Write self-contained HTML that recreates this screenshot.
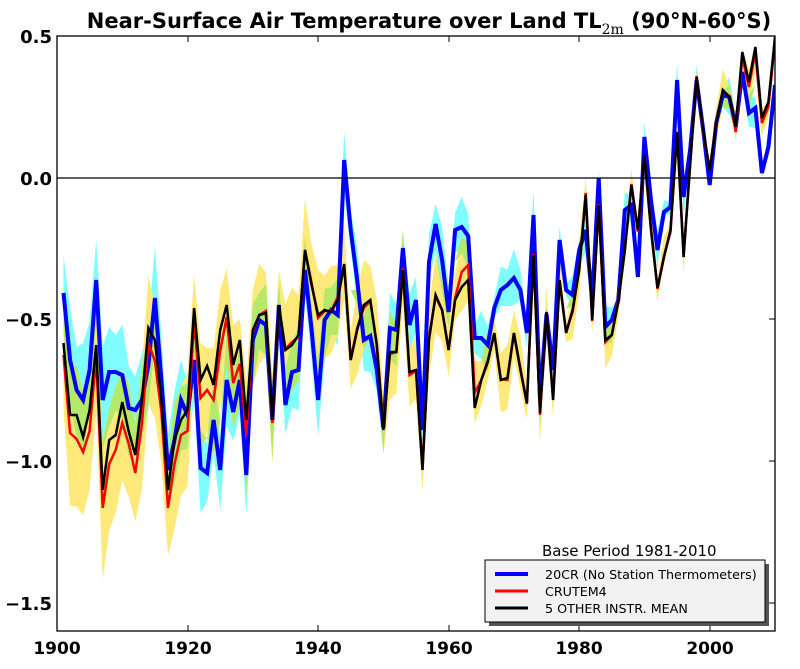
<!DOCTYPE html>
<html><head><meta charset="utf-8"><style>
body{margin:0;background:#fff;width:800px;height:664px;overflow:hidden}
</style></head><body>
<svg id="s" width="800" height="664" xmlns="http://www.w3.org/2000/svg" font-family="DejaVu Sans, Liberation Sans, sans-serif">
<text x="429" y="28" font-size="21" font-weight="bold" text-anchor="middle">Near-Surface Air Temperature over Land TL<tspan font-size="14" font-weight="normal" font-family="DejaVu Serif, serif" dy="6">2m</tspan><tspan dy="-6"> (90°N-60°S)</tspan></text>
<g id="plot"></g>
<line x1="57" y1="178" x2="775" y2="178" stroke="#000" stroke-width="1.2"/>
<rect x="57" y="36" width="718" height="595" fill="none" stroke="#000" stroke-width="1.3"/>
<g font-size="18" font-weight="bold" text-anchor="end">
<text x="52" y="43">0.5</text><text x="52" y="185">0.0</text><text x="52" y="326">−0.5</text><text x="52" y="468">−1.0</text><text x="52" y="610">−1.5</text>
</g>
<g font-size="17" font-weight="bold" text-anchor="middle">
<text x="57" y="654">1900</text><text x="188" y="654">1920</text><text x="318" y="654">1940</text><text x="449" y="654">1960</text><text x="579" y="654">1980</text><text x="710" y="654">2000</text>
</g>
<g stroke="#000" stroke-width="1">
<line x1="188" y1="36" x2="188" y2="42"/><line x1="318" y1="36" x2="318" y2="42"/><line x1="449" y1="36" x2="449" y2="42"/><line x1="579" y1="36" x2="579" y2="42"/><line x1="710" y1="36" x2="710" y2="42"/>
<line x1="188" y1="631" x2="188" y2="625"/><line x1="318" y1="631" x2="318" y2="625"/><line x1="449" y1="631" x2="449" y2="625"/><line x1="579" y1="631" x2="579" y2="625"/><line x1="710" y1="631" x2="710" y2="625"/>
<line x1="775" y1="319" x2="769" y2="319"/><line x1="775" y1="461" x2="769" y2="461"/><line x1="775" y1="603" x2="769" y2="603"/>
</g>
<text x="542" y="556" font-size="15">Base Period 1981-2010</text>
<rect x="489" y="564" width="280" height="62" fill="#555"/>
<rect x="485" y="560" width="280" height="62" fill="#f2f2f2" stroke="#000" stroke-width="1"/>
<line x1="495" y1="574" x2="528" y2="574" stroke="#00f" stroke-width="4"/>
<line x1="495" y1="591" x2="528" y2="591" stroke="#f00" stroke-width="3"/>
<line x1="495" y1="608" x2="528" y2="608" stroke="#000" stroke-width="3"/>
<g font-size="12.7"><text x="545" y="579">20CR (No Station Thermometers)</text><text x="545" y="596">CRUTEM4</text><text x="545" y="613">5 OTHER INSTR. MEAN</text></g>
</svg>
<script>
var B=[293,360,390,400,370,280,400,372,372,375,408,410,400,365,298,380,470,440,400,415,360,468,473,420,470,380,412,380,475,340,320,325,420,305,405,372,370,270,330,400,320,310,315,160,230,280,340,336,370,428,328,330,248,325,300,430,262,224,260,312,230,227,236,338,338,345,308,290,285,278,290,333,215,400,314,370,240,290,295,250,230,300,178,327,320,300,210,205,277,
137,200,250,212,207,80,197,150,80,130,185,123,95,97,127,72,113,108,173,147,85];
var K=[343,415,415,437,410,345,490,440,435,402,432,455,400,328,340,400,490,440,420,410,308,380,366,385,330,305,365,340,420,330,315,313,420,305,350,345,335,250,285,315,310,312,300,264,360,330,305,300,345,430,352,352,270,372,370,470,340,295,310,350,300,287,280,408,380,362,333,380,378,333,370,403,255,413,312,400,280,333,310,270,195,320,205,340,335,302,250,185,230,
155,230,288,257,230,132,257,165,77,130,170,123,90,97,127,52,82,47,118,102,37];
var n=K.length;
var R=K.map(function(v,i){var yr=1901+i;var d=0;if(yr<1930)d=12+((i*7)%5)*3;else if(yr<1960)d=((i*5)%7)-3;else if(yr<2004)d=((i*3)%5)-2;else d=5;if(yr>=1962&&yr<=1964)d=-15;return v+d;});
function X(i){return 57+(i+1)*6.527;}
function hw(i,a,b){return a+(b-a)*Math.min(1,i/90);}
function j(i,s){return ((i*s)%11)-5;}
var cT=[],cB=[],yT=[],yB=[];
for(var i=0;i<n;i++){var h=hw(i,48,10);cT.push(B[i]-h-j(i,7)*2);cB.push(B[i]+h+j(i,3)*2);var g=hw(i,65,12);yT.push(R[i]-g-j(i,5)*2);yB.push(R[i]+g+j(i,9)*2);}
function band(t,b,col){var p="M";for(var i=0;i<n;i++)p+=X(i).toFixed(1)+","+t[i].toFixed(1)+" L";for(var i=n-1;i>=0;i--)p+=X(i).toFixed(1)+","+b[i].toFixed(1)+(i?" L":" Z");return '<path d="'+p+'" fill="'+col+'" stroke="none"/>';}
function line(a,col,w){var p="M";for(var i=0;i<n;i++)p+=X(i).toFixed(1)+","+a[i].toFixed(1)+(i<n-1?" L":"");return '<path d="'+p+'" fill="none" stroke="'+col+'" stroke-width="'+w+'" stroke-linejoin="miter"/>';}
var gT=[],gB=[];for(var i=0;i<n;i++){var t=Math.max(cT[i],yT[i]),b=Math.min(cB[i],yB[i]);if(b<t){var m=(t+b)/2;t=m;b=m;}gT.push(t);gB.push(b);}
var html='<clipPath id="c"><rect x="57" y="36" width="718" height="595"/></clipPath><g clip-path="url(#c)">'+band(cT,cB,"#7ffcff")+band(yT,yB,"#ffe97a")+band(gT,gB,"#b5e96a")+line(B,"#0000ff",4)+line(R,"#ff0000",2.5)+line(K,"#000",2.5)+'</g>';
document.getElementById("plot").innerHTML=html;
</script>
</body></html>
